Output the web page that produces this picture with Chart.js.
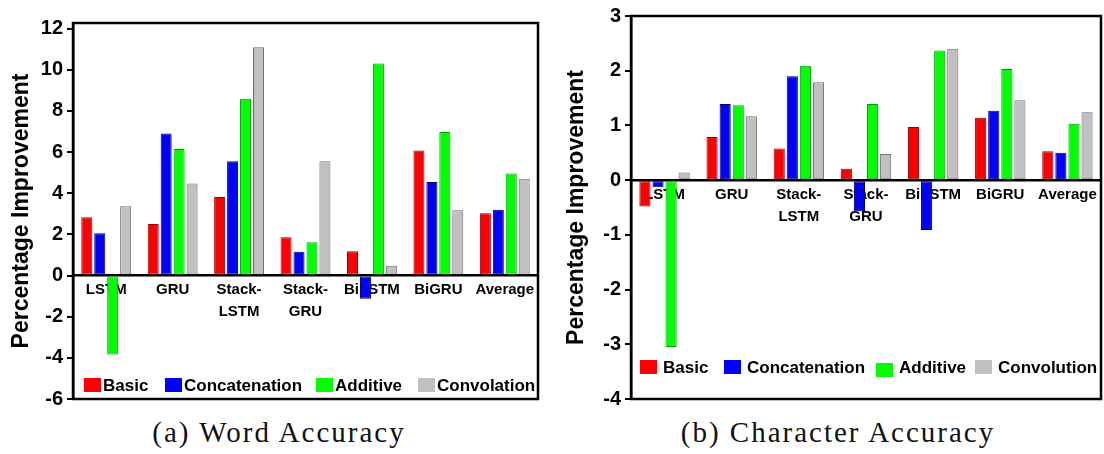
<!DOCTYPE html>
<html>
<head>
<meta charset="utf-8">
<script src="https://cdn.jsdelivr.net/npm/chart.js@4.4.1/dist/chart.umd.min.js"></script>
<style>
  html, body { margin: 0; padding: 0; background: #fff; }
  body { width: 1104px; height: 454px; position: relative; overflow: hidden; }
  .wrap { position: absolute; top: 0; height: 415px; }
  #wrapA { left: 0; width: 552px; }
  #wrapB { left: 555px; width: 549px; }
  .cap { position: absolute; top: 416px; width: 420px; text-align: center;
         font-family: "Liberation Serif", "Times New Roman", serif; font-size: 29px;
         letter-spacing: 2px; color: #111; }
</style>
</head>
<body>
<div class="wrap" id="wrapA"><canvas id="chartA"></canvas></div>
<div class="wrap" id="wrapB"><canvas id="chartB"></canvas></div>
<div class="cap" style="left:69px">(a) Word Accuracy</div>
<div class="cap" style="left:628px">(b) Character Accuracy</div>
<script>
// ---------- data ----------
const categories = [['LSTM'], ['GRU'], ['Stack-', 'LSTM'], ['Stack-', 'GRU'], ['BiLSTM'], ['BiGRU'], ['Average']];
const wordSeriesNames = ['Basic', 'Concatenation', 'Additive', 'Convolation'];
const charSeriesNames = ['Basic', 'Concatenation', 'Additive', 'Convolution'];

const wordBasic    = [2.83, 2.50, 3.81, 1.86, 1.18, 6.07, 3.02];
const wordConcat   = [2.05, 6.90, 5.55, 1.15, -1.13, 4.54, 3.20];
const wordAdditive = [-3.84, 6.15, 8.59, 1.62, 10.30, 6.97, 4.96];
const wordConv     = [3.36, 4.47, 11.09, 5.55, 0.48, 3.17, 4.70];

const charBasic    = [-0.48, 0.79, 0.58, 0.21, 0.97, 1.14, 0.53];
const charConcat   = [-0.13, 1.39, 1.90, -0.57, -0.91, 1.27, 0.50];
const charAdditive = [-3.05, 1.37, 2.09, 1.39, 2.37, 2.03, 1.03];
const charConv     = [0.14, 1.17, 1.79, 0.48, 2.40, 1.46, 1.24];

const wordTicks = [-6, -4, -2, 0, 2, 4, 6, 8, 10, 12];
const charTicks = [-4, -3, -2, -1, 0, 1, 2, 3];

// ---------- styles ----------
const fills   = ['#ff0000', '#0000ff', '#00ff00', '#c0c0c0'];
const borders = ['#9a0000', '#00006e', '#00a000', '#6e6e6e'];
const FONT = '"Liberation Sans", Arial, Helvetica, sans-serif';
Chart.defaults.font.family = FONT;
Chart.defaults.color = '#000';

const framePlugin = {
  id: 'frame',
  afterDraw(chart) {
    const a = chart.chartArea, ctx = chart.ctx;
    ctx.save();
    ctx.strokeStyle = '#000';
    ctx.lineWidth = 2.5;
    ctx.strokeRect(a.left, a.top, a.right - a.left, a.bottom - a.top);
    ctx.restore();
  }
};

const inLegendPlugin = {
  id: 'inLegend',
  afterDraw(chart, args, opts) {
    const ctx = chart.ctx;
    ctx.save();
    ctx.font = 'bold 17px ' + FONT;
    ctx.textBaseline = 'middle';
    ctx.textAlign = 'left';
    chart.data.datasets.forEach((ds, i) => {
      const x = opts.boxX[i];
      ctx.fillStyle = ds.backgroundColor;
      ctx.fillRect(x, opts.boxTop + (opts.boxDy ? opts.boxDy[i] : 0), opts.boxW, opts.boxH);
      ctx.fillStyle = '#000';
      ctx.fillText(ds.label, x + opts.textGap, opts.textY);
    });
    ctx.restore();
  }
};

function makeDatasets(names, series) {
  return series.map((vals, i) => ({
    label: names[i],
    data: vals,
    backgroundColor: fills[i],
    borderColor: borders[i],
    borderWidth: 1,
    borderSkipped: false,
    categoryPercentage: 0.78,
    barPercentage: 0.85
  }));
}

function makeChart(id, names, series, yMin, yMax, ticks, axisWidth, padding, legendOpts) {
  return new Chart(document.getElementById(id), {
    type: 'bar',
    data: { labels: categories, datasets: makeDatasets(names, series) },
    options: {
      responsive: true,
      maintainAspectRatio: false,
      animation: false,
      layout: { padding: padding },
      plugins: {
        legend: { display: false },
        tooltip: { enabled: false },
        inLegend: legendOpts
      },
      scales: {
        x: {
          position: { y: 0 },
          grid: { display: false, drawTicks: false, tickLength: 0 },
          border: { display: true, color: '#000', width: 2.5 },
          ticks: {
            autoSkip: false, maxRotation: 0, minRotation: 0,
            padding: 4,
            color: '#000',
            font: { size: 15, weight: 'bold', lineHeight: '21.5px' }
          }
        },
        y: {
          min: yMin, max: yMax,
          afterBuildTicks: s => { s.ticks = ticks.map(v => ({ value: v })); },
          afterFit: s => { s.width = axisWidth; },
          grid: { display: true, drawOnChartArea: false, drawTicks: true, tickLength: 6, color: '#000', lineWidth: 2 },
          border: { display: true, color: '#000', width: 2.5 },
          ticks: { color: '#000', padding: 4, font: { size: 20, weight: 'bold' } },
          title: {
            display: true, text: 'Percentage Improvement', color: '#000',
            font: { size: 23, weight: 'bold' },
            padding: { top: 8, bottom: 0 }
          }
        }
      }
    },
    plugins: [framePlugin, inLegendPlugin]
  });
}

makeChart('chartA', wordSeriesNames, [wordBasic, wordConcat, wordAdditive, wordConv],
  -6, 12.27, wordTicks, 73, { top: 23, right: 14, bottom: 14, left: 0 },
  { boxX: [84, 165, 316, 418], boxTop: 378, boxW: 17, boxH: 14, textGap: 19, textY: 386 });

makeChart('chartB', charSeriesNames, [charBasic, charConcat, charAdditive, charConv],
  -4, 3, charTicks, 76, { top: 15, right: 3, bottom: 14, left: 0 },
  { boxX: [85, 169, 321, 420], boxTop: 360, boxDy: [0, 0, 3, 0], boxW: 17, boxH: 14, textGap: 23, textY: 368 });
</script>
</body>
</html>
